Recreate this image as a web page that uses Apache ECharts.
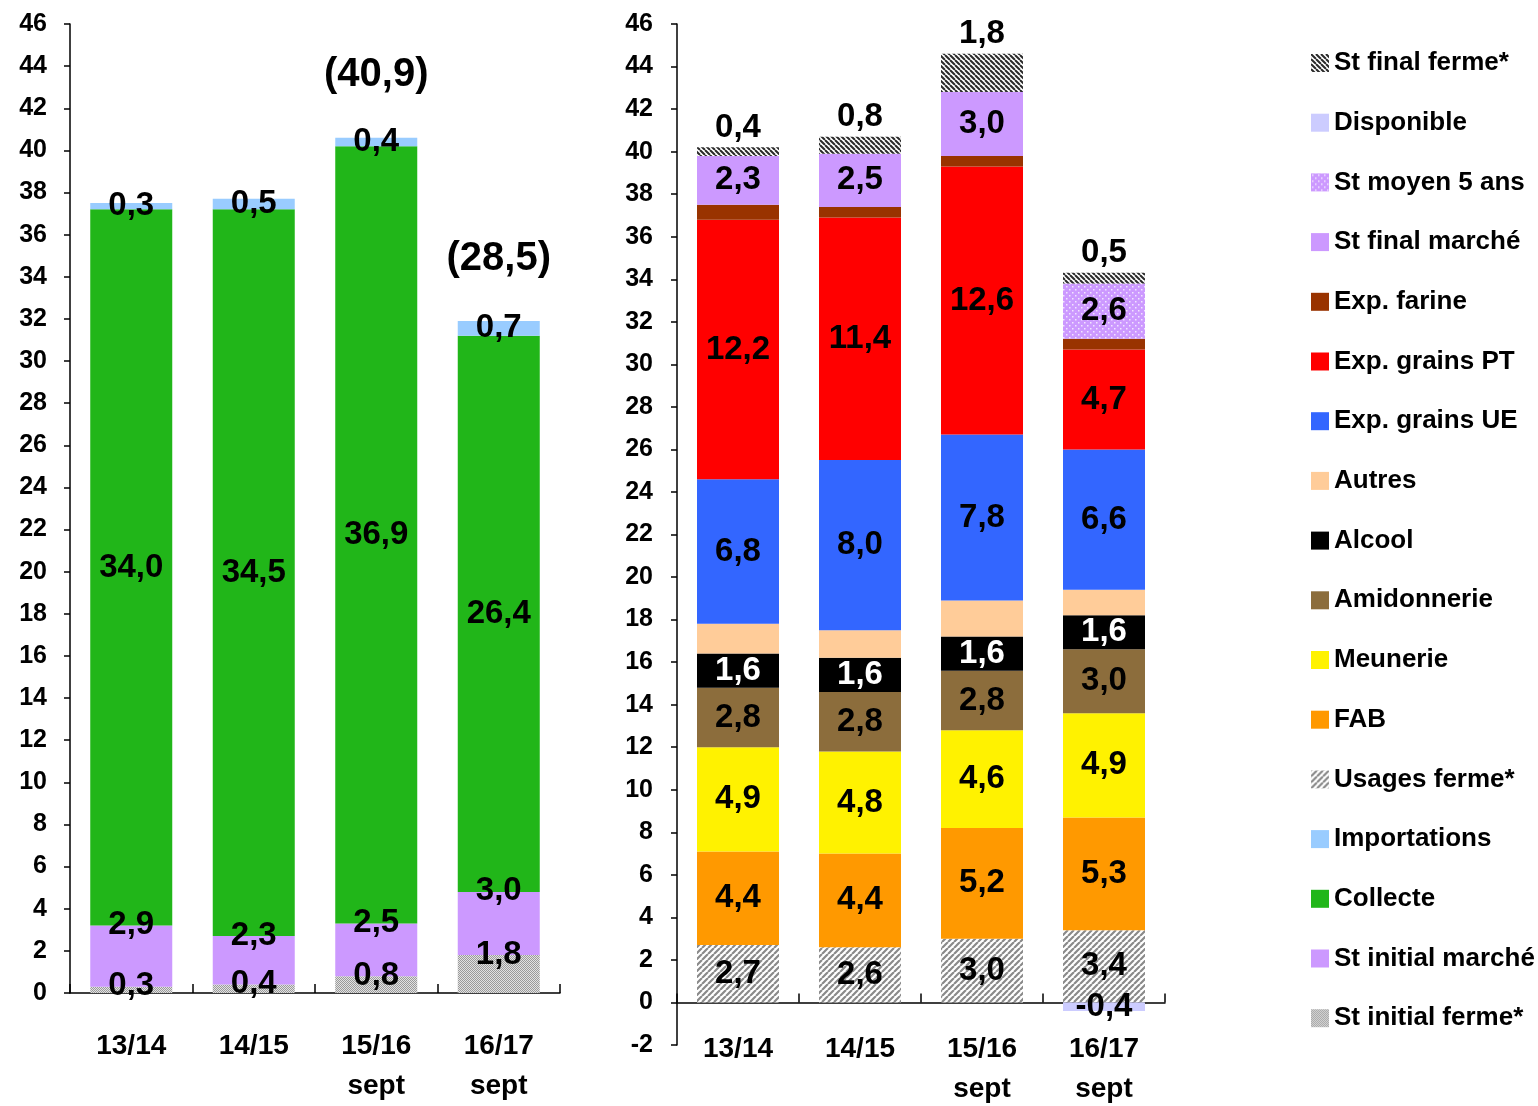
<!DOCTYPE html>
<html>
<head>
<meta charset="utf-8">
<title>Blé tendre - ressources et emplois</title>
<script src="https://cdn.jsdelivr.net/npm/echarts@6/dist/echarts.min.js"></script>
<style>
html, body { margin: 0; padding: 0; background: #ffffff; }
#main { width: 1538px; height: 1106px; }
</style>
</head>
<body>
<div id="main"></div>
<script>
// campagnes (axe des x, commun aux deux graphiques)
var campagnes = ['13/14', '14/15', '15/16\nsept', '16/17\nsept'];

// ressources (Mt)
var stInitialFerme = [0.3, 0.4, 0.8, 1.8];
var stInitialMarche = [2.9, 2.3, 2.5, 3.0];
var collecte = [34.0, 34.5, 36.9, 26.4];
var importations = [0.3, 0.5, 0.4, 0.7];
var notesRessources = ['', '', '(40,9)', '(28,5)'];

// emplois (Mt)
var usagesFerme = [2.7, 2.6, 3.0, 3.4];
var fab = [4.4, 4.4, 5.2, 5.3];
var meunerie = [4.9, 4.8, 4.6, 4.9];
var amidonnerie = [2.8, 2.8, 2.8, 3.0];
var alcool = [1.6, 1.6, 1.6, 1.6];
var autres = [1.4, 1.3, 1.7, 1.2];
var expGrainsUE = [6.8, 8.0, 7.8, 6.6];
var expGrainsPT = [12.2, 11.4, 12.6, 4.7];
var expFarine = [0.7, 0.5, 0.5, 0.5];
var stFinalMarche = [2.3, 2.5, 3.0, null];
var stMoyen5ans = [null, null, null, 2.6];
var disponible = [null, null, null, -0.4];
var stFinalFerme = [0.4, 0.8, 1.8, 0.5];

// graduations
var yMinRessources = 0;
var yMinEmplois = -2;
var yMax = 46;
var yPas = 2;

var police = 'Liberation Sans, Arial, sans-serif';

// motifs (hachures, points, trame)
function motif(fond, trait, taille, genre, epaisseur) {
	var c = document.createElement('canvas');
	c.width = taille;
	c.height = taille;
	var ctx = c.getContext('2d');
	ctx.fillStyle = fond;
	ctx.fillRect(0, 0, taille, taille);
	ctx.strokeStyle = trait;
	ctx.fillStyle = trait;
	ctx.lineWidth = epaisseur || 2;
	if (genre == 'slash' || genre == 'backslash') {
		ctx.beginPath();
		for (var k = -1; k <= 1; k++) {
			if (genre == 'slash') {
				ctx.moveTo(k * taille, taille);
				ctx.lineTo(k * taille + taille, 0);
			} else {
				ctx.moveTo(k * taille, 0);
				ctx.lineTo(k * taille + taille, taille);
			}
		}
		ctx.stroke();
	} else if (genre == 'points') {
		ctx.fillRect(1, 1, 1.5, 1.5);
		ctx.fillRect(1 + taille / 2, 1 + taille / 2, 1.5, 1.5);
	} else if (genre == 'trame') {
		for (var x = 0; x < taille; x++) {
			for (var y = 0; y < taille; y++) {
				if ((x + y) % 2 == 0) ctx.fillRect(x, y, 1, 1);
			}
		}
	}
	return { image: c, repeat: 'repeat' };
}

function fmt(p) {
	if (p.value == null || p.value === '') return '';
	return Number(p.value).toFixed(1).replace('.', ',');
}

function etiquette(position, couleur, distance) {
	return {
		show: true,
		position: position,
		distance: distance == null ? 5 : distance,
		color: couleur || '#000000',
		fontFamily: police,
		fontWeight: 'bold',
		fontSize: 33,
		formatter: fmt
	};
}

function serie(nom, donnees, couleur, axe, lbl) {
	return {
		name: nom,
		type: 'bar',
		stack: axe == 0 ? 'ressources' : 'emplois',
		xAxisIndex: axe,
		yAxisIndex: axe,
		barWidth: 82,
		data: donnees,
		itemStyle: { color: couleur },
		label: lbl || { show: false },
		silent: true
	};
}

function axeY(index, min, marge) {
	return {
		type: 'value',
		gridIndex: index,
		min: min,
		max: yMax,
		interval: yPas,
		splitLine: { show: false },
		axisLine: { show: true, lineStyle: { color: '#000000', width: 1.5 } },
		axisTick: { show: true, length: 6, lineStyle: { color: '#000000', width: 1.5 } },
		axisLabel: {
			margin: marge,
			color: '#000000',
			fontFamily: police,
			fontWeight: 'bold',
			fontSize: 25
		}
	};
}

function axeX(index, marge) {
	return {
		type: 'category',
		gridIndex: index,
		data: campagnes,
		axisLine: { show: true, onZero: true, lineStyle: { color: '#000000', width: 1.5 } },
		axisTick: { show: true, inside: true, length: 9, lineStyle: { color: '#000000', width: 1.5 } },
		axisLabel: {
			margin: marge,
			color: '#000000',
			fontFamily: police,
			fontWeight: 'bold',
			fontSize: 28,
			lineHeight: 40
		}
	};
}

function getChart() {
	var totalRessources = [];
	for (var i = 0; i < campagnes.length; i++) {
		totalRessources.push(stInitialFerme[i] + stInitialMarche[i] + collecte[i] + importations[i]);
	}

	var coulStFinalFerme = motif('#ffffff', '#2a2a2a', 5, 'backslash', 2);
	var coulUsagesFerme = motif('#ffffff', '#8a8a8a', 6, 'slash', 2.2);
	var coulStInitialFerme = motif('#e2e2e2', '#9a9a9a', 4, 'trame');
	var coulStMoyen = motif('#CC99FF', '#f2e6ff', 6, 'points');

	var option = {
		animation: false,
		textStyle: { fontFamily: police },
		legend: {
			orient: 'vertical',
			left: 1306,
			top: 45,
			icon: 'rect',
			itemWidth: 18,
			itemHeight: 18,
			itemGap: 33.7,
			selectedMode: false,
			textStyle: {
				color: '#000000',
				fontFamily: police,
				fontWeight: 'bold',
				fontSize: 26,
				lineHeight: 26
			},
			data: ['St final ferme*', 'Disponible', 'St moyen 5 ans', 'St final marché', 'Exp. farine',
				'Exp. grains PT', 'Exp. grains UE', 'Autres', 'Alcool', 'Amidonnerie', 'Meunerie', 'FAB',
				'Usages ferme*', 'Importations', 'Collecte', 'St initial marché', 'St initial ferme*']
		},
		grid: [
			{ left: 70, top: 24, width: 490, height: 969, outerBoundsMode: 'none', containLabel: false },
			{ left: 677, top: 24, width: 488, height: 1021, outerBoundsMode: 'none', containLabel: false }
		],
		// l'axe de droite est sur le zéro, mais ses libellés restent en bas de la grille
		xAxis: [axeX(0, 33), axeX(1, -16)],
		yAxis: [axeY(0, yMinRessources, 23), axeY(1, yMinEmplois, 24)],
		series: [
			// ressources
			serie('St initial ferme*', stInitialFerme, coulStInitialFerme, 0, etiquette('top', '#000', -16)),
			serie('St initial marché', stInitialMarche, '#CC99FF', 0, etiquette('top', '#000', -16)),
			serie('Collecte', collecte, '#21B619', 0, etiquette('inside')),
			serie('Importations', importations, '#99CCFF', 0, etiquette('inside')),
			{
				name: 'notes',
				type: 'scatter',
				xAxisIndex: 0,
				yAxisIndex: 0,
				symbolSize: 1,
				itemStyle: { color: 'rgba(0,0,0,0)', opacity: 1 },
				silent: true,
				data: totalRessources,
				label: {
					show: true,
					position: 'top',
					distance: 42,
					opacity: 1,
					color: '#000000',
					fontFamily: police,
					fontWeight: 'bold',
					fontSize: 40,
					formatter: function (p) { return notesRessources[p.dataIndex]; }
				}
			},
			// emplois
			serie('Usages ferme*', usagesFerme, coulUsagesFerme, 1, etiquette('inside')),
			serie('FAB', fab, '#FF9900', 1, etiquette('inside')),
			serie('Meunerie', meunerie, '#FFF200', 1, etiquette('inside')),
			serie('Amidonnerie', amidonnerie, '#8C6D3C', 1, etiquette('inside')),
			serie('Alcool', alcool, '#000000', 1, etiquette('inside', '#ffffff')),
			serie('Autres', autres, '#FFCC99', 1),
			serie('Exp. grains UE', expGrainsUE, '#3366FF', 1, etiquette('inside')),
			serie('Exp. grains PT', expGrainsPT, '#FF0000', 1, etiquette('inside')),
			serie('Exp. farine', expFarine, '#993300', 1),
			serie('St final marché', stFinalMarche, '#CC99FF', 1, etiquette('inside')),
			serie('St moyen 5 ans', stMoyen5ans, coulStMoyen, 1, etiquette('inside')),
			serie('Disponible', disponible, '#CCCCFF', 1, etiquette('inside')),
			serie('St final ferme*', stFinalFerme, coulStFinalFerme, 1, etiquette('top', '#000', 3))
		]
	};

	var myChart = echarts.init(document.getElementById('main'));
	myChart.setOption(option, true);
}

getChart();
</script>
</body>
</html>
